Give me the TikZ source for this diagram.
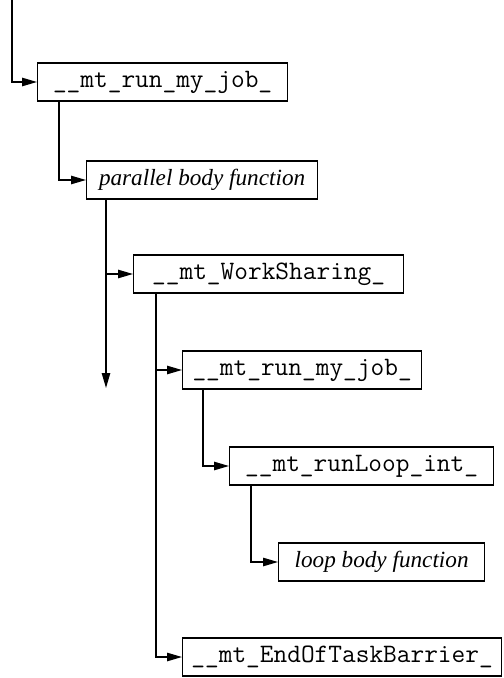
\documentclass[tikz,border=0pt]{standalone}
\usepackage{fontspec}
\setmainfont{Liberation Serif}
\usetikzlibrary{arrows.meta}

\begin{document}
\begin{tikzpicture}[x=0.5pt,y=-0.5pt,
    fn/.style={draw,line width=0.6pt,anchor=west,minimum height=19pt,inner sep=0pt,
      font=\fontsize{11.6}{13}\selectfont},
    code/.style={fn,font=\fontsize{13.3}{15}\ttfamily},
    call/.style={-{Triangle[length=7.5pt,width=4.2pt]},line width=0.7pt}]
    \useasboundingbox (0,0) rectangle (503,678);

    \node [code,minimum width=125pt]   (runjob)  at (37,82)  {\_\_mt\_run\_my\_job\_};
    \node [fn,minimum width=115.5pt]   (parbody) at (86,180) {\itshape parallel body function};
    \node [code,minimum width=135pt]   (wshare)  at (133,274) {\_\_mt\_WorkSharing\_};
    \node [code,minimum width=119.5pt] (runjobb) at (182,370) {\_\_mt\_run\_my\_job\_};
    \node [code,minimum width=132pt]   (runloop) at (229,466) {\_\_mt\_runLoop\_int\_};
    \node [fn,minimum width=103pt]     (loopbody) at (278,562) {\itshape loop body function};
    \node [code,minimum width=159.5pt] (barrier) at (182,657) {\_\_mt\_EndOfTaskBarrier\_};

    \coordinate (entry) at (12,0);
    \coordinate (back)  at (106,388);

    \draw [call] (entry) |- (runjob.west);
    \draw [call] ([xshift=11pt]runjob.south west) |- (parbody.west);
    \draw [call] ([xshift=10pt]parbody.south west) -- (back);
    \draw [call] (wshare.west -| back) -- (wshare.west);
    \draw [call] ([xshift=11.5pt]wshare.south west) |- (barrier.west);
    \draw [call] (runjobb.west -| barrier.west) ++(-13pt,0) -- (runjobb.west);
    \draw [call] ([xshift=10.5pt]runjobb.south west) |- (runloop.west);
    \draw [call] ([xshift=11pt]runloop.south west) |- (loopbody.west);
\end{tikzpicture}
\end{document}
